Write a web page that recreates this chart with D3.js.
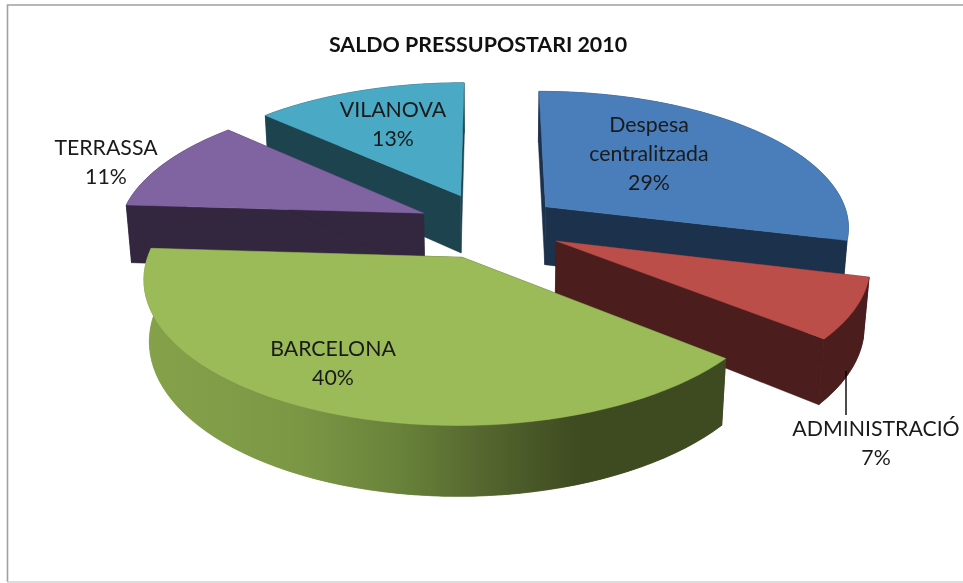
<!DOCTYPE html>
<html><head><meta charset="utf-8">
<script src="https://cdn.jsdelivr.net/npm/d3@7"></script>
<style>html,body{margin:0;padding:0;background:#fff}svg{display:block;filter:blur(0.4px)}text{font-family:Lato,"Open Sans",sans-serif}</style>
</head><body><svg id="c" width="963" height="583"></svg>
<script>
// Data
const categories = ["Despesa centralitzada","ADMINISTRACIÓ","BARCELONA","TERRASSA","VILANOVA"];
const values = [29,7,40,11,13];
const title = "SALDO PRESSUPOSTARI 2010";
// Styles
const topColors  = ["#4a7ebb","#bc4e4a","#9bbb59","#8064a2","#4aa9c4"];
const wallColors = ["#1c314b","#4b1e1d","url(#greenWall)","#33263f","#1d434e"];
const drawOrder  = [4,3,0,1,2];
const labelLines = [["Despesa","centralitzada"],["ADMINISTRACIÓ"],["BARCELONA"],["TERRASSA"],["VILANOVA"]];
const labelX = [649,876,333,106,393];
const labelY = [132,436,356,155,117];
// Projection parameters of the tilted, exploded pie
const cx=490, cy=226, A=305, B=136, k=0.136, H=59, sink=0.015;
const explode=[0.235,0.24,0.24,0.24,0.25];

const svg=d3.select("#c");
const defs=svg.append("defs");
const grad=defs.append("linearGradient").attr("id","greenWall").attr("gradientUnits","userSpaceOnUse")
  .attr("x1",145).attr("x2",725).attr("y1",0).attr("y2",0);
[[0,"#85a24a"],[0.27,"#7b9745"],[0.44,"#68823a"],[0.58,"#55672f"],[0.75,"#3e4a20"],[1,"#3e4a20"]]
  .forEach(([o,c])=>grad.append("stop").attr("offset",o).attr("stop-color",c));

// frame
svg.append("path").attr("d","M963,5 H7.5 V582").attr("fill","none").attr("stroke","#a0a0a0").attr("stroke-width",1.6);
svg.append("line").attr("x1",7).attr("x2",963).attr("y1",582).attr("y2",582).attr("stroke","#d0d0d0").attr("stroke-width",1.4);

const arcs=d3.pie().sort(null).value(d=>d)(values);
const total=d3.sum(values);
const proj=(u,v,low)=>{const w=1+k*v;return [cx+A*u/(w+(low?sink:0)), cy-B*v/w+(low?H/w:0)];};
const line=d3.line();
const g=svg.append("g");
const solid=(pts,fill)=>g.append("path").attr("d",line(pts)+"Z").attr("fill",fill).attr("stroke",fill).attr("stroke-width",.5);

drawOrder.forEach(i=>{
  const a=arcs[i], mid=(a.startAngle+a.endAngle)/2;
  const ou=explode[i]*Math.sin(mid), ov=explode[i]*Math.cos(mid);
  const rim=d3.range(0,61).map(j=>{const t=a.startAngle+(a.endAngle-a.startAngle)*j/60;return [ou+Math.sin(t),ov+Math.cos(t)];});
  const up=p=>proj(p[0],p[1],false), lo=p=>proj(p[0],p[1],true);
  const apex=[ou,ov], s=rim[0], e=rim[60];
  const side=rim.map(up).concat(rim.slice().reverse().map(lo));
  solid(side,wallColors[i]);
  solid([up(apex),up(s),lo(s),lo(apex)],i===2?"#3e4a20":wallColors[i]);
  solid([up(apex),up(e),lo(e),lo(apex)],i===2?"#3e4a20":wallColors[i]);
  if(Math.cos(mid)<0) solid(side,wallColors[i]);
  solid([up(apex)].concat(rim.map(up)),topColors[i]);
});

// leader line
svg.append("line").attr("x1",846).attr("x2",846).attr("y1",371).attr("y2",415).attr("stroke","#000").attr("stroke-width",1.4);

// title
svg.append("text").attr("x",478).attr("y",52).attr("text-anchor","middle").attr("font-size",21.4).attr("font-weight",700).attr("fill","#111").text(title);

// labels
categories.forEach((c,i)=>{
  const lines=labelLines[i].concat([Math.round(values[i]/total*100)+"%"]);
  const t=svg.append("text").attr("text-anchor","middle").attr("font-size",21.3).attr("fill","#1a1a1a");
  lines.forEach((l,j)=>t.append("tspan").attr("x",labelX[i]).attr("y",labelY[i]+j*29).text(l));
});
</script></body></html>
